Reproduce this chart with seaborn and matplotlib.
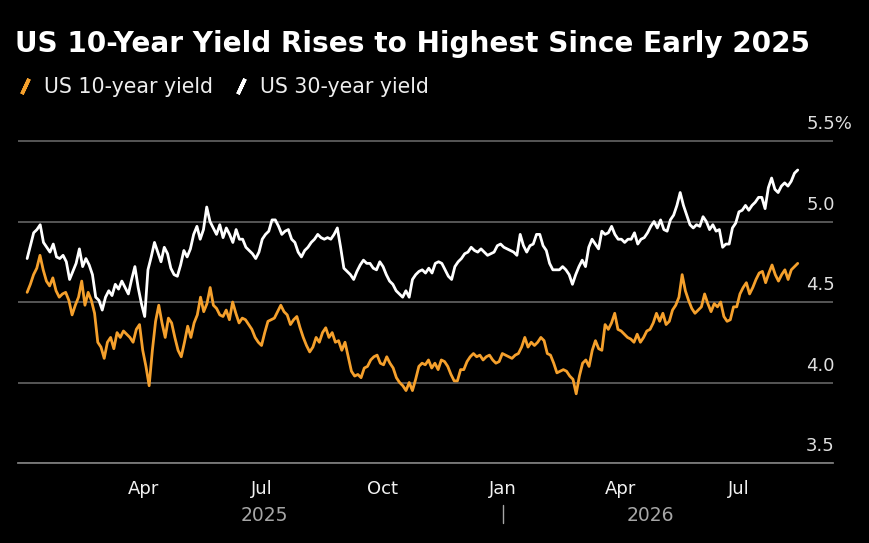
import matplotlib
matplotlib.use("Agg")
import matplotlib.pyplot as plt
import matplotlib.dates as mdates
import matplotlib.transforms as mtransforms
from matplotlib.lines import Line2D
import pandas as pd
import seaborn as sns

TITLE = "US 10-Year Yield Rises to Highest Since Early 2025"
SERIES = ["US 10-year yield", "US 30-year yield"]
COLORS = ["#f5a02c", "#ffffff"]
START, END = "2025-01-02", "2026-08-15"

# yields in %, oldest first
US10 = [4.56, 4.61, 4.67, 4.71, 4.79, 4.70, 4.63, 4.60, 4.65, 4.57, 4.53, 4.55, 4.56, 4.51, 4.42, 4.48,
        4.53, 4.63, 4.48, 4.56, 4.51, 4.43, 4.25, 4.22, 4.15, 4.25, 4.28, 4.21, 4.31, 4.28, 4.32, 4.30,
        4.28, 4.25, 4.33, 4.36, 4.20, 4.10, 3.98, 4.20, 4.38, 4.48, 4.37, 4.28, 4.40, 4.37, 4.28, 4.20,
        4.16, 4.25, 4.35, 4.28, 4.37, 4.42, 4.53, 4.44, 4.49, 4.59, 4.48, 4.46, 4.42, 4.41, 4.45, 4.39,
        4.50, 4.43, 4.37, 4.40, 4.39, 4.36, 4.33, 4.28, 4.25, 4.23, 4.31, 4.38, 4.39, 4.40, 4.44, 4.48,
        4.44, 4.42, 4.36, 4.39, 4.41, 4.34, 4.28, 4.23, 4.19, 4.22, 4.28, 4.25, 4.31, 4.34, 4.28, 4.31,
        4.25, 4.26, 4.20, 4.25, 4.16, 4.07, 4.04, 4.05, 4.03, 4.09, 4.10, 4.14, 4.16, 4.17, 4.12, 4.11,
        4.16, 4.12, 4.09, 4.03, 4.00, 3.98, 3.95, 4.00, 3.95, 4.02, 4.10, 4.12, 4.11, 4.14, 4.09, 4.12,
        4.08, 4.14, 4.13, 4.10, 4.05, 4.01, 4.01, 4.08, 4.08, 4.13, 4.16, 4.18, 4.16, 4.17, 4.14, 4.16,
        4.17, 4.14, 4.12, 4.13, 4.18, 4.17, 4.16, 4.15, 4.17, 4.18, 4.22, 4.28, 4.22, 4.25, 4.23, 4.25,
        4.28, 4.26, 4.18, 4.17, 4.12, 4.06, 4.07, 4.08, 4.07, 4.04, 4.02, 3.93, 4.04, 4.12, 4.14, 4.10,
        4.20, 4.26, 4.21, 4.20, 4.36, 4.33, 4.37, 4.43, 4.33, 4.32, 4.30, 4.28, 4.27, 4.25, 4.30, 4.25,
        4.28, 4.32, 4.33, 4.37, 4.43, 4.38, 4.43, 4.36, 4.38, 4.45, 4.48, 4.53, 4.67, 4.57, 4.51, 4.46,
        4.43, 4.45, 4.47, 4.55, 4.49, 4.44, 4.49, 4.47, 4.50, 4.41, 4.38, 4.39, 4.47, 4.47, 4.55, 4.59,
        4.62, 4.55, 4.59, 4.64, 4.68, 4.69, 4.62, 4.68, 4.73, 4.67, 4.63, 4.67, 4.70, 4.64, 4.70, 4.72,
        4.74]
US30 = [4.77, 4.85, 4.93, 4.95, 4.98, 4.87, 4.84, 4.81, 4.86, 4.78, 4.77, 4.79, 4.75, 4.64, 4.69, 4.74,
        4.83, 4.72, 4.77, 4.73, 4.67, 4.53, 4.51, 4.45, 4.53, 4.57, 4.54, 4.61, 4.58, 4.63, 4.59, 4.55,
        4.64, 4.72, 4.59, 4.49, 4.41, 4.70, 4.78, 4.87, 4.81, 4.75, 4.84, 4.80, 4.71, 4.67, 4.66, 4.73,
        4.82, 4.78, 4.83, 4.92, 4.97, 4.89, 4.95, 5.09, 5.00, 4.96, 4.92, 4.98, 4.90, 4.96, 4.92, 4.87,
        4.95, 4.89, 4.89, 4.84, 4.82, 4.80, 4.77, 4.81, 4.89, 4.92, 4.94, 5.01, 5.01, 4.97, 4.92, 4.94,
        4.95, 4.89, 4.87, 4.81, 4.78, 4.82, 4.84, 4.87, 4.89, 4.92, 4.90, 4.89, 4.90, 4.89, 4.92, 4.96,
        4.84, 4.71, 4.69, 4.67, 4.64, 4.69, 4.73, 4.76, 4.74, 4.74, 4.71, 4.70, 4.75, 4.72, 4.67, 4.63,
        4.61, 4.57, 4.55, 4.53, 4.57, 4.53, 4.64, 4.67, 4.69, 4.70, 4.68, 4.71, 4.68, 4.74, 4.75, 4.74,
        4.70, 4.66, 4.64, 4.72, 4.75, 4.77, 4.80, 4.81, 4.84, 4.82, 4.81, 4.83, 4.81, 4.79, 4.80, 4.81,
        4.85, 4.86, 4.84, 4.83, 4.82, 4.81, 4.79, 4.92, 4.85, 4.81, 4.85, 4.86, 4.92, 4.92, 4.85, 4.82,
        4.74, 4.70, 4.70, 4.70, 4.72, 4.70, 4.67, 4.61, 4.67, 4.72, 4.76, 4.72, 4.84, 4.89, 4.86, 4.83,
        4.94, 4.92, 4.93, 4.97, 4.92, 4.89, 4.89, 4.87, 4.89, 4.89, 4.93, 4.86, 4.89, 4.90, 4.93, 4.97,
        5.00, 4.96, 5.01, 4.95, 4.94, 5.01, 5.04, 5.10, 5.18, 5.10, 5.04, 4.98, 4.96, 4.98, 4.97, 5.03,
        5.00, 4.95, 4.98, 4.94, 4.95, 4.84, 4.86, 4.86, 4.96, 4.99, 5.06, 5.07, 5.10, 5.07, 5.10, 5.12,
        5.15, 5.15, 5.08, 5.21, 5.27, 5.20, 5.18, 5.22, 5.24, 5.22, 5.25, 5.30, 5.32]

Y_TICKS = [3.5, 4.0, 4.5, 5.0, 5.5]
Y_LABELS = ["3.5", "4.0", "4.5", "5.0", "5.5%"]
YEARS = [2025, 2026]

frames = []
for name, vals in zip(SERIES, [US10, US30]):
    frames.append(pd.DataFrame({
        "date": pd.date_range(START, END, periods=len(vals)),
        "yield": vals,
        "series": name,
    }))
df = pd.concat(frames, ignore_index=True)

sns.set_style("dark", {"axes.facecolor": "black", "figure.facecolor": "black"})
plt.rcParams["font.family"] = ["DejaVu Sans"]

fig = plt.figure(figsize=(8.7, 5.43), dpi=100)
ax = fig.add_axes([18 / 870, 1 - 463 / 543, 815 / 870, (463 - 137.8) / 543])

sns.lineplot(data=df, x="date", y="yield", hue="series", palette=COLORS,
             linewidth=2.0, legend=False, ax=ax)

start, end = pd.Timestamp(START), pd.Timestamp(END)
ax.set_xlim(start - pd.Timedelta(days=7), end + pd.Timedelta(days=27))
ax.set_ylim(3.5, 5.52)

# month ticks only inside the data range
months = pd.date_range(start, end, freq="MS")
major = [m for m in months if m.month in (1, 4, 7, 10)]
minor = [m for m in months if m.month not in (1, 4, 7, 10)]
ax.set_xticks(major)
ax.set_xticks(minor, minor=True)
ax.xaxis.set_major_formatter(mdates.DateFormatter("%b"))
ax.tick_params(axis="x", which="major", length=6.5, width=1, color="#8c8c8c",
               labelcolor="#f2f2f2", labelsize=13, pad=6)
ax.tick_params(axis="x", which="minor", length=3.6, width=1, color="#8c8c8c")

ax.set_yticks(Y_TICKS)
ax.set_yticklabels([])
ax.tick_params(axis="y", length=0)
ax.grid(axis="y", color="#5c5c5c", linewidth=1.3)
ax.grid(axis="x", visible=False)
for s in ["top", "left", "right"]:
    ax.spines[s].set_visible(False)
ax.spines["bottom"].set_color("#7a7a7a")
ax.spines["bottom"].set_linewidth(1.3)
ax.set_xlabel("")
ax.set_ylabel("")

# y labels sit just above their gridlines, inside the right edge
ylab_tr = mtransforms.offset_copy(
    mtransforms.blended_transform_factory(ax.transAxes, ax.transData),
    fig=fig, x=0, y=5.5, units="points")
for v, lab in zip(Y_TICKS, Y_LABELS):
    ax.text(0.967, v, lab, transform=ylab_tr, ha="left", va="bottom",
            fontsize=13, color="#e0e0e0")

# year labels centred on each year's data, with a divider at the year break
xtr = mtransforms.blended_transform_factory(ax.transData, ax.transAxes)
for yr in YEARS:
    a = max(start, pd.Timestamp(f"{yr}-01-01"))
    b = min(end, pd.Timestamp(f"{yr}-12-31"))
    mid = a + (b - a) / 2
    ax.text(mdates.date2num(mid), -0.16, str(yr), transform=xtr, ha="center",
            va="center", fontsize=13.5, color="#a6a6a6")
brk = mdates.date2num(pd.Timestamp(f"{YEARS[1]}-01-01"))
ax.plot([brk, brk], [-0.13, -0.186], transform=xtr, color="#a6a6a6",
        linewidth=1, clip_on=False)

fig.text(15 / 870, 1 - 52 / 543, TITLE, fontsize=20.1, fontweight="bold",
         color="white", va="baseline")

handles = [Line2D([], [], linestyle="none", marker=(2, 2, -25), markersize=12,
                  markeredgewidth=2.6, color=c) for c in COLORS]
fig.legend(handles, SERIES, loc="center left", bbox_to_anchor=(-0.004, 1 - 87 / 543),
           ncol=2, frameon=False, fontsize=14.8, labelcolor="#eeeeee",
           handlelength=0.95, handletextpad=0.45, columnspacing=0.9)

fig.savefig("out.png", dpi=100, facecolor="black")
